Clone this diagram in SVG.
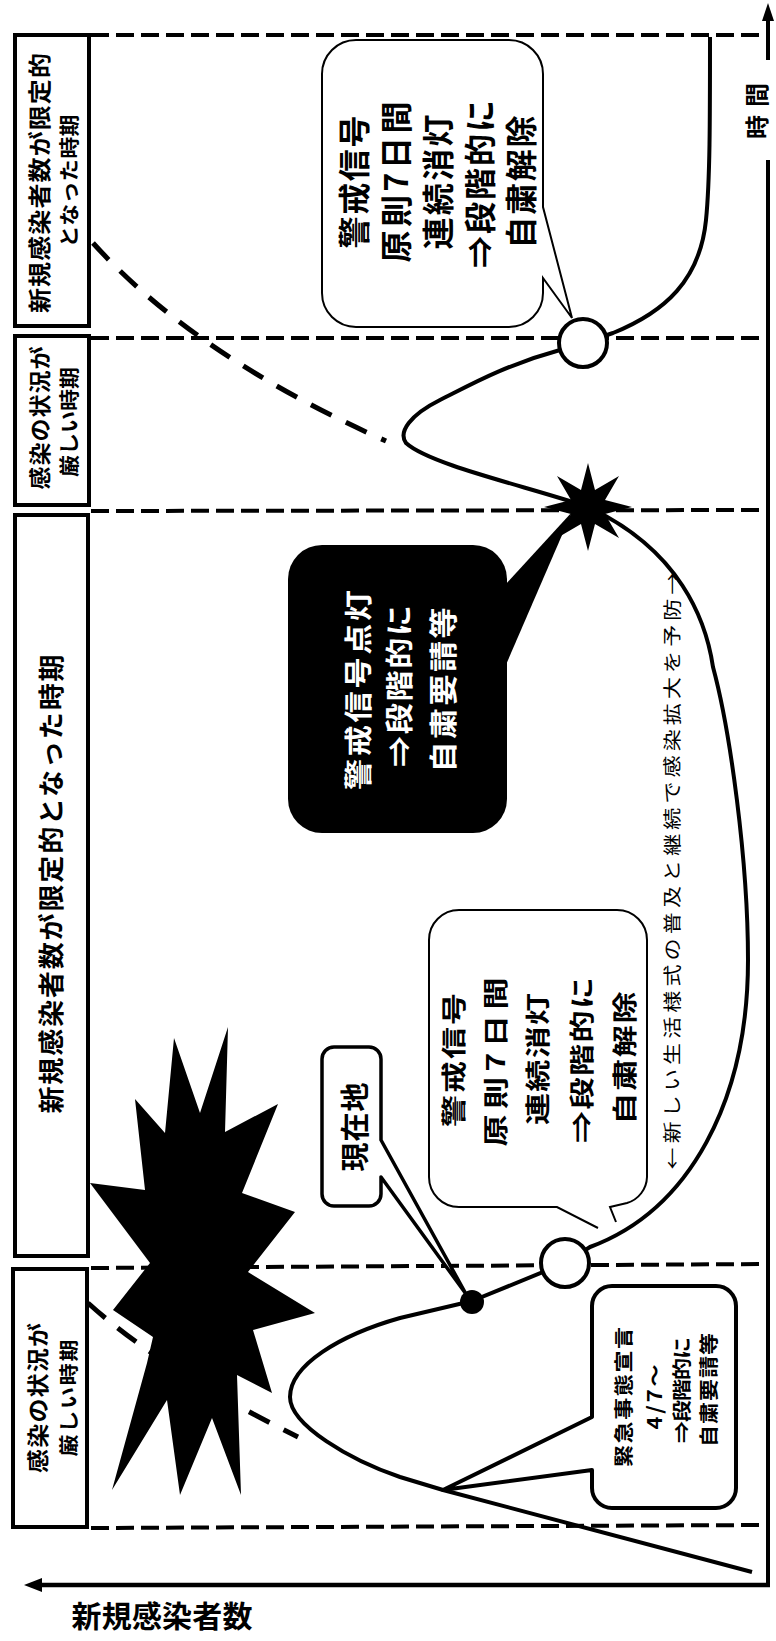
<svg xmlns="http://www.w3.org/2000/svg" width="776" height="1641" viewBox="0 0 776 1641">
<style>
.dash{stroke:#000;stroke-width:4;stroke-dasharray:18 7;fill:none}
.dcurve{stroke:#000;stroke-width:5;stroke-dasharray:23 16;fill:none}
.curve{stroke:#000;stroke-width:4;fill:none;stroke-linejoin:round}
.box{fill:#fff;stroke:#000;stroke-width:4}
.call{fill:#fff;stroke:#000;stroke-width:2}
.t{font-family:"Noto Sans CJK JP","Noto Sans CJK SC",sans-serif;font-weight:bold;text-anchor:middle;dominant-baseline:central;fill:#000}
.n{font-weight:normal}
.w{fill:#fff}
</style>
<rect width="776" height="1641" fill="#fff"/>

<g id="period-lines">
<line class="dash" x1="91" y1="35" x2="765" y2="35"/>
<line class="dash" x1="91" y1="338" x2="765" y2="338"/>
<line class="dash" x1="91" y1="511" x2="765" y2="510"/>
<line class="dash" x1="91" y1="1268" x2="765" y2="1264"/>
<line class="dash" x1="91" y1="1528" x2="765" y2="1525"/>
</g>

<g id="period1">
<rect class="box" x="15" y="35" width="74" height="291"/>
<text class="t" font-size="25" textLength="260" lengthAdjust="spacing" transform="translate(38,183) rotate(-90) scale(1,0.92)">新規感染者数が限定的</text>
<text class="t" font-size="22" textLength="133" lengthAdjust="spacing" transform="translate(68,181) rotate(-90) scale(1,0.92)">となった時期</text>
</g>
<g id="period2">
<rect class="box" x="15" y="336" width="74" height="169"/>
<text class="t" font-size="23" textLength="143" lengthAdjust="spacing" transform="translate(38,418) rotate(-90) scale(1,0.92)">感染の状況が</text>
<text class="t" font-size="22" textLength="110" lengthAdjust="spacing" transform="translate(68,422) rotate(-90) scale(1,0.92)">厳しい時期</text>
</g>
<g id="period3">
<rect class="box" x="15" y="515" width="73" height="741"/>
<text class="t" font-size="27" textLength="459" lengthAdjust="spacing" transform="translate(50,884) rotate(-90) scale(1,0.95)">新規感染者数が限定的となった時期</text>
</g>
<g id="period4">
<rect class="box" x="13" y="1269" width="74" height="258"/>
<text class="t" font-size="24" textLength="150" lengthAdjust="spacing" transform="translate(37,1398) rotate(-90) scale(1,0.9)">感染の状況が</text>
<text class="t" font-size="22" textLength="117" lengthAdjust="spacing" transform="translate(67,1398) rotate(-90) scale(1,0.9)">厳しい時期</text>
</g>

<g id="axes">
<line x1="768" y1="18" x2="768" y2="60" stroke="#000" stroke-width="4"/>
<line x1="768" y1="160" x2="768" y2="1587" stroke="#000" stroke-width="4"/>
<polygon points="768,3 762,21 774,21" fill="#000"/>
<line x1="770" y1="1585" x2="38" y2="1585" stroke="#000" stroke-width="4.5"/>
<polygon points="24,1585 42,1578 42,1592" fill="#000"/>
<text class="t" font-size="24" textLength="56" lengthAdjust="spacing" transform="translate(755,111) rotate(-90)">時間</text>
<text class="t" font-size="30" textLength="181" lengthAdjust="spacing" x="162" y="1614">新規感染者数</text>
</g>

<g id="connectors">
<path class="dcurve" d="M93,243 Q195,356 386,441"/>
<path class="dcurve" d="M88,1303 Q162,1370 298,1437"/>
<path class="curve" d="M752,1572 L443,1490 L400,1477 C350,1460 290,1425 290,1397 C290,1365 340,1335 400,1318 L472,1301 L565,1263 L590,1247 C690,1210 748,1100 748,960 C748,860 730,730 713,667 C706,620 680,550 588,507 C530,487 430,465 406,443 C398,432 410,415 440,400 C470,385 505,365 560,350 L583,343 L613,333 C665,312 700,280 706,220 C710,180 710,120 710,37"/>
</g>

<g id="explosion-big">
<polygon fill="#000" points="228,1027 200,1113 174,1038 165,1133 135,1099 145,1190 90,1183 150,1263 113,1310 153,1337 147,1363 112,1490 167,1400 180,1495 212,1418 241,1495 237,1375 272,1393 253,1330 315,1313 248,1272 295,1212 242,1193 278,1104 225,1132"/>
</g>

<g id="callout-top">
<path class="call" d="M356,40 H509 A34,34 0 0 1 543,74 V207 L572,318 L543,278 V293 A34,34 0 0 1 509,327 H356 A34,34 0 0 1 322,293 V74 A34,34 0 0 1 356,40 Z"/>
<text class="t" font-size="32" textLength="133" lengthAdjust="spacing" transform="translate(352,182) rotate(-90)">警戒信号</text>
<text class="t" font-size="32" textLength="161" lengthAdjust="spacing" transform="translate(394,182) rotate(-90)">原則7日間</text>
<text class="t" font-size="32" textLength="135" lengthAdjust="spacing" transform="translate(436,182) rotate(-90)">連続消灯</text>
<text class="t" font-size="32" textLength="168" lengthAdjust="spacing" transform="translate(478,184) rotate(-90)">⇒段階的に</text>
<text class="t" font-size="32" textLength="133" lengthAdjust="spacing" transform="translate(519,182) rotate(-90)">自粛解除</text>
</g>

<g id="callout-black">
<rect x="288" y="545" width="219" height="288" rx="34" fill="#000"/>
<polygon points="505,585 572,512 505,667" fill="#000"/>
<text class="t w" font-size="31" textLength="200" lengthAdjust="spacing" transform="translate(357,690) rotate(-90) scale(1,0.92)">警戒信号点灯</text>
<text class="t w" font-size="31" textLength="162" lengthAdjust="spacing" transform="translate(398,686) rotate(-90) scale(1,0.92)">⇒段階的に</text>
<text class="t w" font-size="31" textLength="165" lengthAdjust="spacing" transform="translate(442,690) rotate(-90) scale(1,0.92)">自粛要請等</text>
</g>

<g id="star-small">
<polygon fill="#000" points="588,463 595,490 619,476 605,500 632,507 605,514 619,538 595,524 588,551 581,524 557,538 571,514 544,507 571,500 557,476 581,490"/>
</g>

<g id="callout-middle">
<path class="call" d="M459,910 H617 A30,30 0 0 1 647,940 V1177 A28,28 0 0 1 627,1203 L610,1207 L616,1222 M598,1228 L557,1207 H459 A30,30 0 0 1 429,1177 V940 A30,30 0 0 1 459,910"/>
<text class="t" font-size="32" textLength="134" lengthAdjust="spacing" transform="translate(452,1060) rotate(-90) scale(1,0.78)">警戒信号</text>
<text class="t" font-size="32" textLength="169" lengthAdjust="spacing" transform="translate(494,1062) rotate(-90) scale(1,0.78)">原則7日間</text>
<text class="t" font-size="32" textLength="132" lengthAdjust="spacing" transform="translate(536,1059) rotate(-90) scale(1,0.78)">連続消灯</text>
<text class="t" font-size="32" textLength="166" lengthAdjust="spacing" transform="translate(580,1060) rotate(-90) scale(1,0.78)">⇒段階的に</text>
<text class="t" font-size="32" textLength="133" lengthAdjust="spacing" transform="translate(623,1058) rotate(-90) scale(1,0.78)">自粛解除</text>
</g>

<g id="note-lifestyle">
<text class="t n" font-size="22" textLength="597" lengthAdjust="spacing" transform="translate(671,871) rotate(-90) scale(1,0.85)">←新しい生活様式の普及と継続で感染拡大を予防→</text>
</g>

<g id="callout-genzaichi">
<path fill="#fff" stroke="#000" stroke-width="3.5" stroke-linejoin="round" d="M334,1047 H369 A12,12 0 0 1 381,1059 V1140 L466,1294 L381,1177 V1194 A12,12 0 0 1 369,1206 H334 A12,12 0 0 1 322,1194 V1059 A12,12 0 0 1 334,1047 Z"/>
<text class="t" font-size="29" textLength="89" lengthAdjust="spacing" transform="translate(353,1127) rotate(-90)">現在地</text>
</g>

<g id="callout-emergency">
<path fill="#fff" stroke="#000" stroke-width="4" stroke-linejoin="round" d="M612,1286 H716 A20,20 0 0 1 736,1306 V1488 A20,20 0 0 1 716,1508 H612 A20,20 0 0 1 592,1488 V1470 L443,1490 L592,1417 V1306 A20,20 0 0 1 612,1286 Z"/>
<text class="t" font-size="22" textLength="140" lengthAdjust="spacing" transform="translate(622,1397) rotate(-90) scale(1,0.9)">緊急事態宣言</text>
<text class="t" font-size="22" textLength="65" lengthAdjust="spacing" transform="translate(653,1397) rotate(-90) scale(1,0.9)">4/7～</text>
<text class="t" font-size="22" textLength="106" lengthAdjust="spacing" transform="translate(680,1390) rotate(-90) scale(1,0.9)">⇒段階的に</text>
<text class="t" font-size="22" textLength="114" lengthAdjust="spacing" transform="translate(707,1390) rotate(-90) scale(1,0.9)">自粛要請等</text>
</g>

<g id="markers">
<circle cx="583" cy="343" r="24" fill="#fff" stroke="#000" stroke-width="4"/>
<circle cx="565" cy="1263" r="24" fill="#fff" stroke="#000" stroke-width="4"/>
<circle cx="472" cy="1302" r="12" fill="#000"/>
</g>
</svg>
